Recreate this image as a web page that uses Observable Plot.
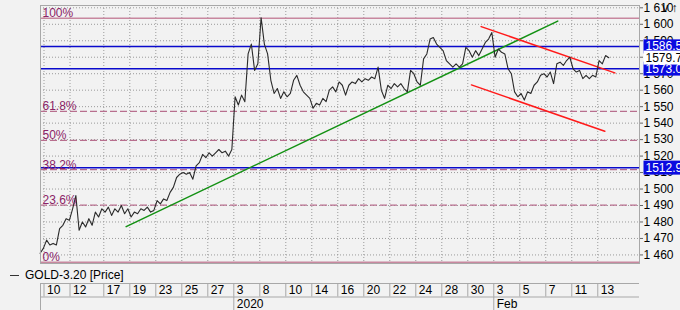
<!DOCTYPE html>
<html>
<head>
<meta charset="utf-8">
<script src="https://cdn.jsdelivr.net/npm/d3@7"></script>
<script src="https://cdn.jsdelivr.net/npm/@observablehq/plot@0.6"></script>
<style>
  html, body { margin: 0; padding: 0; background: #f2f2f2; }
  #wrap { position: relative; width: 680px; height: 310px; overflow: hidden; font-family: "Liberation Sans", Arial, sans-serif; }
  #main { position: absolute; left: 0; top: 0; }
  #legend { position: absolute; left: 10px; top: 268px; font-size: 12px; color: #000; white-space: nowrap; }
  #legend .dash { display: inline-block; width: 9px; height: 1px; background: #333; vertical-align: middle; margin-right: 6px; }
  #dates { position: absolute; left: 0; top: 282px; }
</style>
</head>
<body>
<div id="wrap">
  <div id="main"></div>
  <div id="legend"><span class="dash"></span>GOLD-3.20 [Price]</div>
  <div id="dates"></div>
</div>
<script>
// ---- data (trading-day units, 4 samples per day, from Dec 10 2019) ----
const priceStart = 0.1;   // first sample position (trading days)
const priceStep = 0.25;   // 4 samples per trading day
const prices = [
  1461,1464,1469,1466,1467,1466,1476,1478,1482,1481,
  1488,1496,1475,1480,1477,1482,1478,1486,1483,1488,
  1486,1489,1484,1488,1486,1490,1485,1488,1483,1486,
  1485,1488,1487,1489,1486,1487,1493,1491,1494,1493,
  1498,1501,1507,1509,1510,1509,1510,1506,1514,1516,
  1521,1519,1522,1520,1522,1524,1522,1523,1520,1524,
  1556,1551,1557,1553,1582,1588,1572,1576,1604,1588,
  1582,1566,1558,1561,1555,1559,1556,1558,1566,1569,
  1563,1559,1557,1555,1549,1552,1551,1555,1553,1560,
  1562,1559,1565,1563,1557,1563,1565,1564,1567,1565,
  1567,1566,1568,1567,1574,1560,1555,1563,1561,1564,
  1562,1564,1561,1559,1572,1570,1565,1563,1579,1582,
  1591,1592,1588,1586,1584,1578,1576,1574,1576,1574,
  1576,1586,1584,1580,1584,1581,1585,1589,1591,1595,
  1580,1585,1583,1582,1573,1570,1559,1556,1558,1554,
  1559,1558,1563,1565,1569,1570,1568,1571,1564,1576,
  1577,1575,1578,1580,1573,1571,1572,1567,1569,1567,
  1569,1568,1578,1576,1581,1579.7
];

const yTicks = [1460,1470,1480,1490,1500,1510,1520,1530,1540,1550,1560,1570,1580,1590,1600,1610];

const dayTickPos = [0.4,2.4,5,7,9,11,13,15,17,19,21,23,25,27,29,31,33,35,37,39,41,43];
const dayTickLabels = ["10","12","17","19","23","25","27","3","8","10","14","16","20","22","24","28","30","3","5","7","11","13"];
const monthPos = [15, 35];
const monthLabels = ["2020", "Feb"];

const fibNames = ["100%","61.8%","50%","38.2%","23.6%","0%"];
const fibValues = [1603.7,1547.1,1529.5,1511.8,1490.2,1455.5];

const blueLevels = [1586.5, 1573.0, 1512.9];
const blueLabels = ["1586.5", "1573.0", "1512.9"];
const lastPrice = 1579.7;
const lastLabel = "1579.7";

const greenT = [6.72, 39.92];
const greenV = [1477.2, 1601.9];
const redUpperT = [34.03, 44.31];
const redUpperV = [1598.6, 1570.5];
const redLowerT = [33.28, 43.54];
const redLowerV = [1563.2, 1535.1];

// ---- build tables ----
const priceData = prices.map((v, i) => ({t: priceStart + priceStep * i, v}));
const seg = (ts, vs) => ts.map((t, i) => ({t, v: vs[i]}));
const green = seg(greenT, greenV);
const redU = seg(redUpperT, redUpperV);
const redL = seg(redLowerT, redLowerV);
const fib = fibNames.map((n, i) => ({name: n, v: fibValues[i]}));
const fibSolid = fib.filter(d => d.name === "100%" || d.name === "0%");
const fibDashed = fib.filter(d => !(d.name === "100%" || d.name === "0%"));
const blueTags = blueLevels.map((v, i) => ({v, label: blueLabels[i]}));
const dayTicks = dayTickPos.map((p, i) => ({p, label: dayTickLabels[i]}));
const months = monthPos.map((p, i) => ({p, label: monthLabels[i]}));

const xDomain = [0.13, 46.21];
const xMax = xDomain[1];
const xMin = xDomain[0];
const fmt = d => d3.format(",")(d).replace(",", " ");
const font = "'Liberation Sans', Arial, sans-serif";

const main = Plot.plot({
  width: 680, height: 265,
  marginTop: 5, marginBottom: 2, marginLeft: 40, marginRight: 41,
  style: {background: "transparent", fontFamily: font, fontSize: "12px", color: "#000", overflow: "visible"},
  x: {domain: xDomain, axis: null},
  y: {domain: [1454.8, 1611.4], axis: null},
  marks: [
    Plot.gridY(yTicks, {stroke: "#9a9a9a", strokeOpacity: 1, strokeDasharray: "1,2"}),
    Plot.gridX(dayTickPos, {stroke: "#9a9a9a", strokeOpacity: 1, strokeDasharray: "1,2"}),
    Plot.ruleY(fibSolid, {y: "v", stroke: "#c8889f", strokeWidth: 1.5}),
    Plot.ruleY(fibDashed, {y: "v", stroke: "#b86f8e", strokeWidth: 1.2, strokeDasharray: "7,3"}),
    Plot.ruleY(blueLevels, {stroke: "#0a0acc", strokeWidth: 1.5}),
    Plot.line(green, {x: "t", y: "v", stroke: "#139113", strokeWidth: 1.5}),
    Plot.line(redU, {x: "t", y: "v", stroke: "#ff1a1a", strokeWidth: 1.5}),
    Plot.line(redL, {x: "t", y: "v", stroke: "#ff1a1a", strokeWidth: 1.5}),
    Plot.line(priceData, {x: "t", y: "v", stroke: "#2a2a2a", strokeWidth: 1.1}),
    Plot.frame({stroke: "#a8a8a8"}),
    Plot.axisY(yTicks, {anchor: "right", tickSize: 3, tickPadding: 1, tickFormat: fmt, fontSize: 12, stroke: "#666"}),
    Plot.text(fib, {x: () => xMin, y: "v", text: "name", textAnchor: "start", lineAnchor: "bottom", dx: 2, dy: -1, fill: "#8b2467", fontSize: 12}),
    Plot.text(blueTags, {x: () => xMax, y: "v", text: "label", textAnchor: "start", dx: 6, fill: "white", fontSize: 12}),
    Plot.text([lastPrice], {x: () => xMax, y: d => d, text: () => lastLabel, textAnchor: "start", dx: 6, fill: "black", fontSize: 12})
  ]
});
document.getElementById("main").appendChild(main);

// backgrounds behind the price tags (found by their text)
const ns = "http://www.w3.org/2000/svg";
main.querySelectorAll("text").forEach(t => {
  const s = t.textContent;
  let color = null;
  if (blueLabels.includes(s)) color = "#0a0ae0";
  else if (s === lastLabel) color = "#ffffff";
  if (!color) return;
  const b = t.getBBox();
  const r = document.createElementNS(ns, "rect");
  const x0 = b.x - 2;
  r.setAttribute("x", x0);
  r.setAttribute("y", b.y);
  r.setAttribute("width", 60);
  r.setAttribute("height", b.height);
  r.setAttribute("fill", color);
  const tr = t.getAttribute("transform");
  if (tr) r.setAttribute("transform", tr);
  t.parentNode.insertBefore(r, t);
});

// date axis strip
const dates = Plot.plot({
  width: 680, height: 28,
  marginTop: 1, marginBottom: 0, marginLeft: 40, marginRight: 41,
  style: {background: "transparent", fontFamily: font, fontSize: "12px", color: "#000"},
  x: {domain: xDomain, axis: null},
  y: {domain: [0, 2], reverse: true, axis: null},
  marks: [
    Plot.ruleY([0, 1], {stroke: "#a8a8a8"}),
    Plot.ruleX([xMin], {y1: 0, y2: 2, stroke: "#a8a8a8"}),
    Plot.ruleX(dayTicks, {x: "p", y1: 0, y2: 1, stroke: "#a8a8a8"}),
    Plot.ruleX(months, {x: "p", y1: 1, y2: 2, stroke: "#a8a8a8"}),
    Plot.text(dayTicks, {x: "p", y: () => 0.5, text: "label", textAnchor: "start", dx: 3, fill: "#000", fontSize: 12}),
    Plot.text(months, {x: "p", y: () => 1.5, text: "label", textAnchor: "start", dx: 3, fill: "#000", fontSize: 12})
  ]
});
document.getElementById("dates").appendChild(dates);
</script>
</body>
</html>
